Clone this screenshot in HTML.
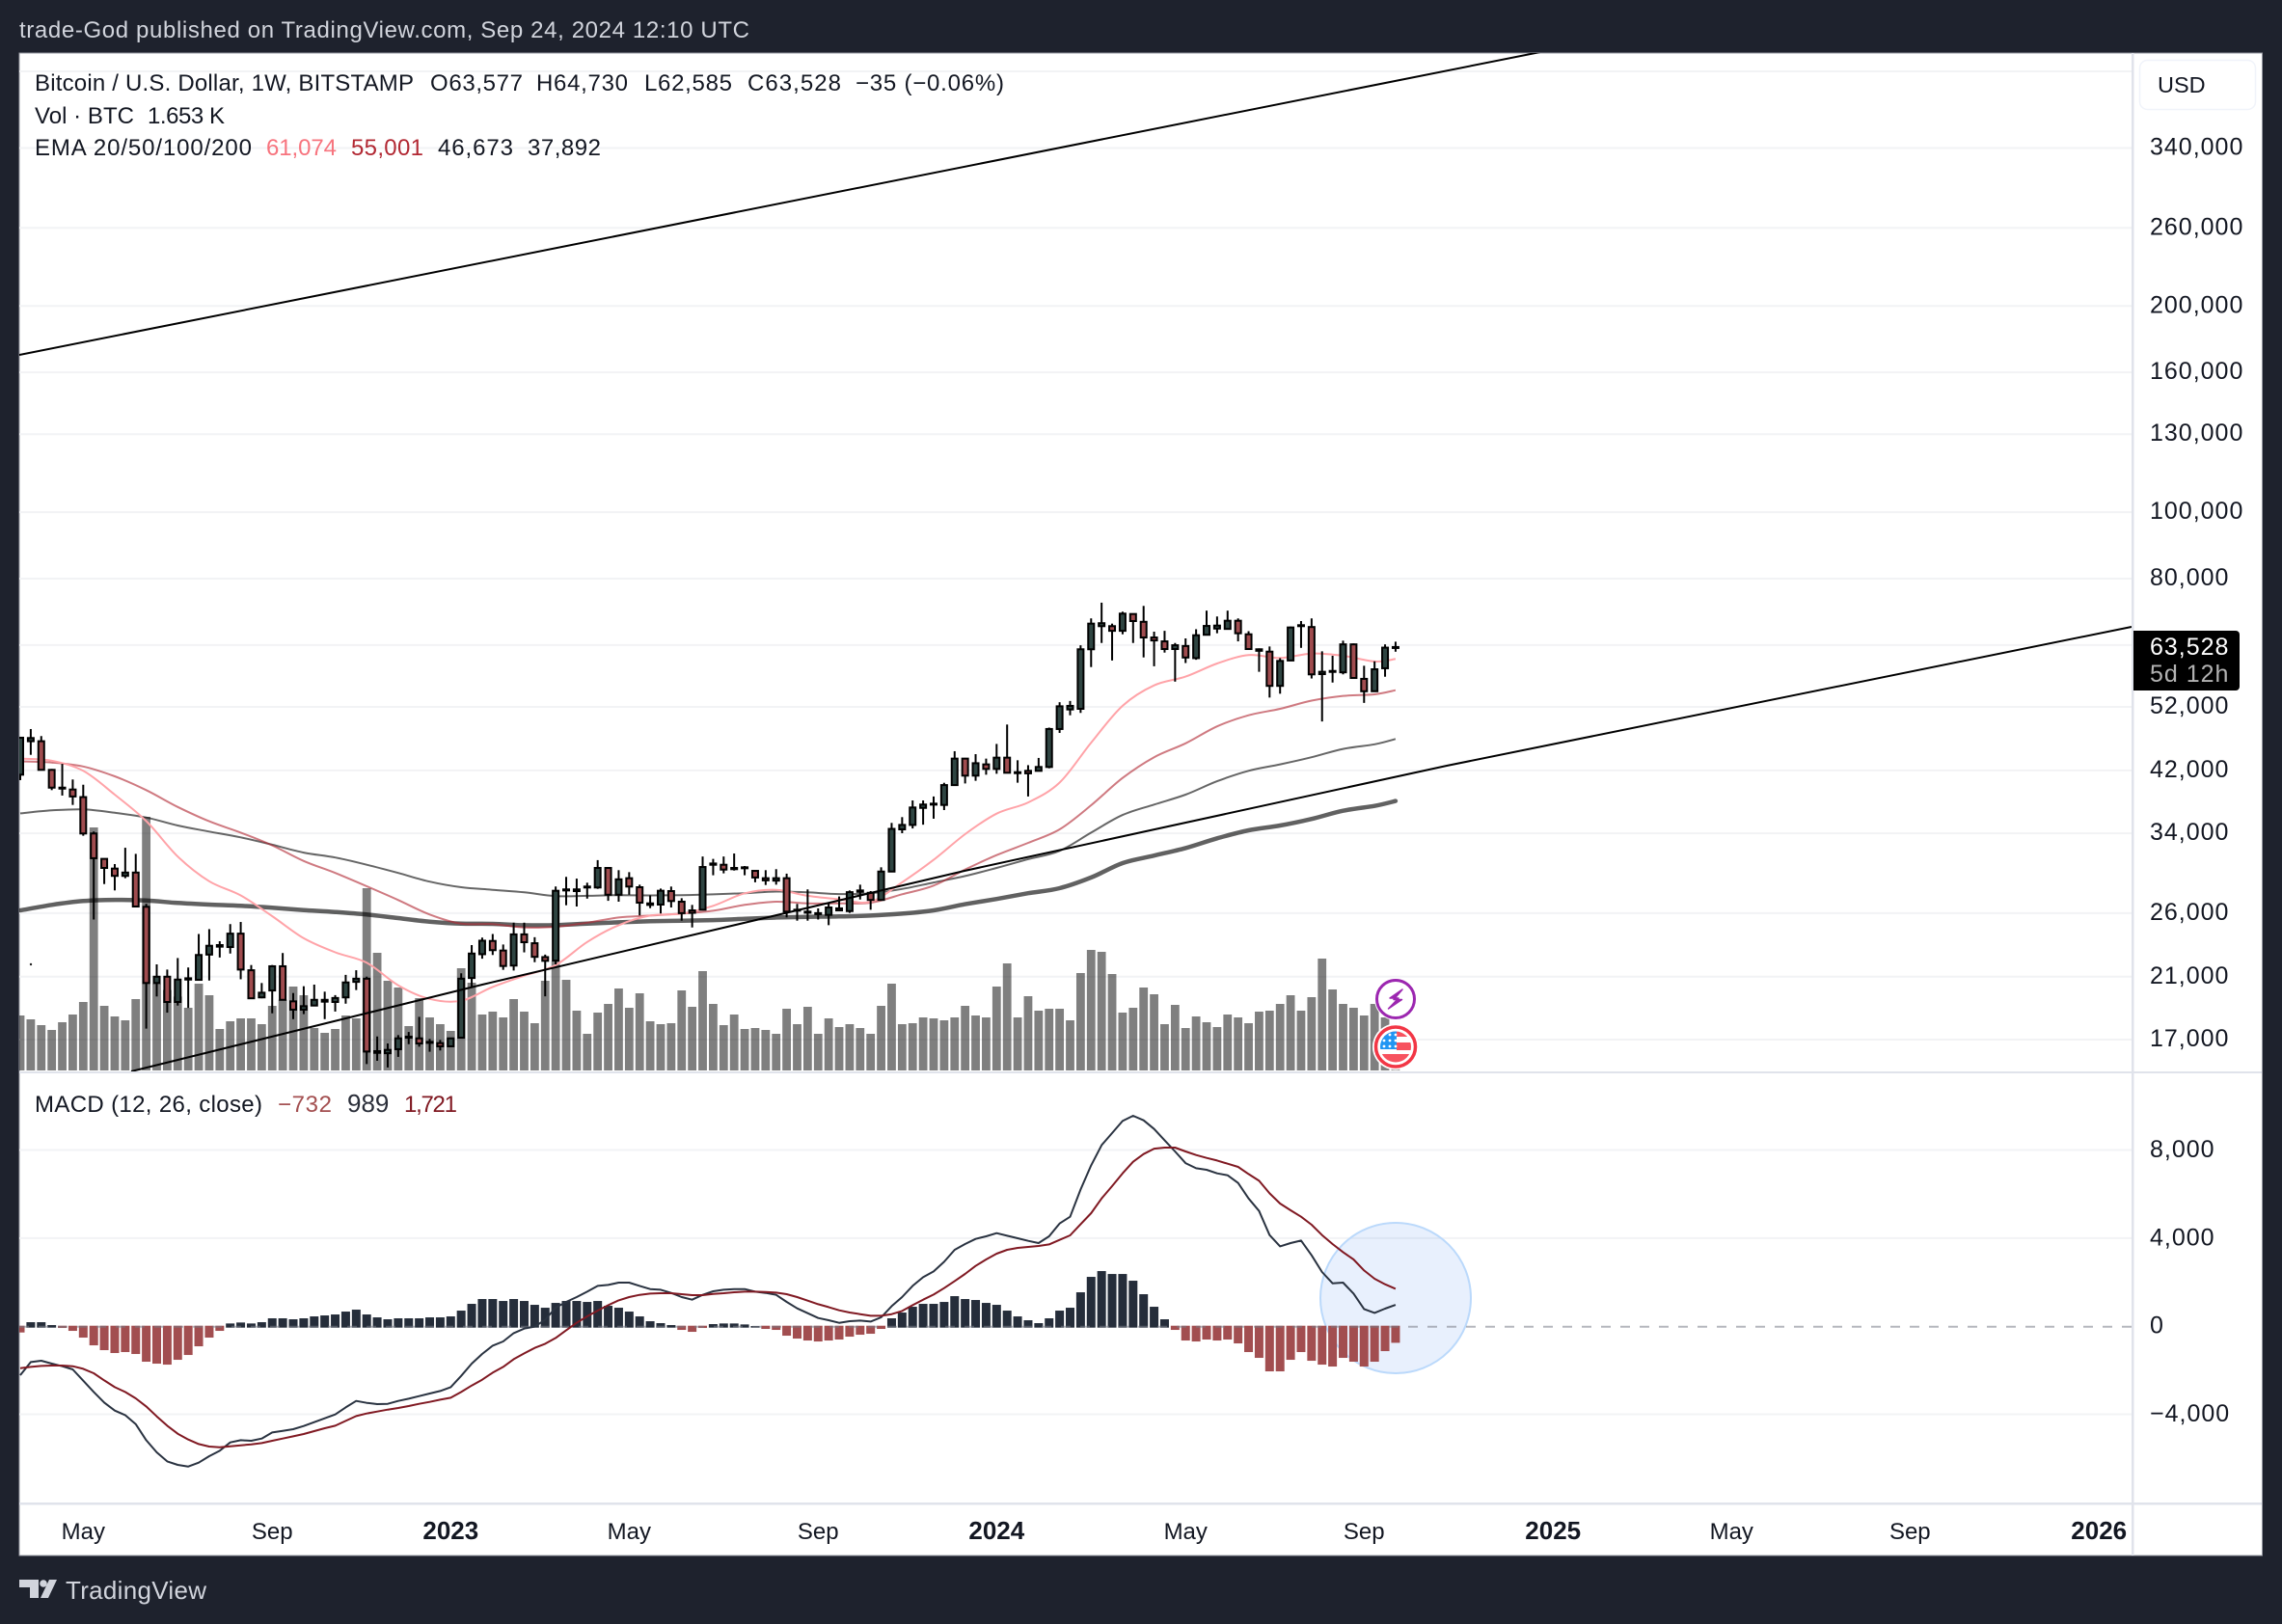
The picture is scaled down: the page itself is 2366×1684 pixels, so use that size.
<!DOCTYPE html>
<html lang="en">
<head>
<meta charset="utf-8">
<title>BTCUSD weekly chart</title>
<style>
html,body{margin:0;padding:0;background:#1e222d;width:2366px;height:1684px;overflow:hidden}
svg{display:block}
text{font-family:"Liberation Sans",sans-serif;fill:#131722}
.leg{font-size:24px}
.ax{font-size:25px;letter-spacing:1px;fill:#131722}
</style>
</head>
<body>
<svg id="chart" xmlns="http://www.w3.org/2000/svg" width="2366" height="1684" viewBox="0 0 2366 1684">
  <defs>
    <clipPath id="mainClip"><rect x="20" y="55" width="2191" height="1056"/></clipPath>
    <clipPath id="macdClip"><rect x="20" y="1113" width="2191" height="445"/></clipPath>
    <clipPath id="flagClip"><circle cx="1447" cy="1085.5" r="16"/></clipPath>
  </defs>
  <rect x="0" y="0" width="2366" height="1684" fill="#1e222d"/>
  <text x="20" y="39" font-size="24" style="fill:#d1d4dc" textLength="757">trade-God published on TradingView.com, Sep 24, 2024 12:10 UTC</text>
  <rect x="20" y="55" width="2325.5" height="1558" fill="#fff" stroke="#9598a1" stroke-width="1"/>
  <g id="gridLayer"></g>
  <g id="mainLayer" clip-path="url(#mainClip)"></g>
  <g id="macdLayer" clip-path="url(#macdClip)"></g>

  <rect x="20" y="1111" width="2325" height="2" fill="#e0e3eb"/>
  <rect x="20" y="1558" width="2325" height="2.5" fill="#e0e3eb"/>
  <rect x="2210" y="55" width="2.5" height="1558" fill="#e0e3eb"/>

  <g id="axisLayer"></g>

  <g>
    <text class="leg" x="36" y="94" textLength="393">Bitcoin / U.S. Dollar, 1W, BITSTAMP</text>
    <text class="leg" x="446" y="94" textLength="96">O63,577</text>
    <text class="leg" x="556" y="94" textLength="95">H64,730</text>
    <text class="leg" x="668" y="94" textLength="91">L62,585</text>
    <text class="leg" x="775" y="94" textLength="97">C63,528</text>
    <text class="leg" x="887" y="94" textLength="154">−35 (−0.06%)</text>
    <text class="leg" x="36" y="128" textLength="103">Vol · BTC</text>
    <text class="leg" x="153" y="128" textLength="80">1.653 K</text>
    <text class="leg" x="36" y="161" textLength="225">EMA 20/50/100/200</text>
    <text class="leg" x="276" y="161" textLength="73" style="fill:#f7747e">61,074</text>
    <text class="leg" x="364" y="161" textLength="75" style="fill:#b22833">55,001</text>
    <text class="leg" x="454" y="161" textLength="78">46,673</text>
    <text class="leg" x="547" y="161" textLength="76">37,892</text>
    <text class="leg" x="36" y="1153" textLength="236">MACD (12, 26, close)</text>
    <text class="leg" x="288" y="1153" textLength="56" style="fill:#a34f50">−732</text>
    <text class="leg" x="360" y="1153" style="fill:#2a2e39;font-size:26px">989</text>
    <text class="leg" x="419" y="1153" textLength="55" style="fill:#801922">1,721</text>
  </g>

  <g>
    <rect x="2218.5" y="62.5" width="120" height="51" rx="8" fill="#fff" stroke="#f0f3fa" stroke-width="1.5"/>
    <text x="2237" y="96" font-size="23.5">USD</text>
  </g>

  <g>
    <path d="M2212 654H2318a4 4 0 0 1 4 4V712a4 4 0 0 1 -4 4H2212Z" fill="#000"/>
    <text x="2229" y="679" font-size="25" letter-spacing="1" style="fill:#fff">63,528</text>
    <text x="2229" y="707" font-size="25" letter-spacing="1" style="fill:#b2b2b2">5d 12h</text>
  </g>

  <circle cx="32" cy="1000" r="1.2" fill="#222"/>

  <g>
    <circle cx="1447" cy="1036" r="22" fill="#fff"/>
    <circle cx="1447" cy="1036" r="19.5" fill="#fff" stroke="#9c27b0" stroke-width="3"/>
    <path d="M1454 1026L1441 1035H1450L1439.5 1046L1453.5 1036.5H1445Z" fill="#9c27b0" stroke="#9c27b0" stroke-width="1.5" stroke-linejoin="round"/>
  </g>
  <g>
    <circle cx="1447" cy="1085.5" r="24" fill="#fff"/>
    <circle cx="1447" cy="1085.5" r="20.5" fill="#fff" stroke="#f23645" stroke-width="3.5"/>
    <g clip-path="url(#flagClip)">
      <rect x="1430" y="1069" width="34" height="33" fill="#fff"/>
      <rect x="1430" y="1069" width="34" height="6" fill="#f7525f"/>
      <rect x="1448" y="1081" width="17" height="8" fill="#f7525f"/>
      <rect x="1430" y="1093" width="34" height="10" fill="#f7525f"/>
      <rect x="1430" y="1069" width="18" height="19" fill="#2196f3"/>
      <g fill="#fff">
        <circle cx="1441" cy="1073" r="1.4"/><circle cx="1447" cy="1073" r="1.4"/>
        <circle cx="1435" cy="1079" r="1.4"/><circle cx="1441" cy="1079" r="1.4"/><circle cx="1447" cy="1079" r="1.4"/>
        <circle cx="1435" cy="1085" r="1.4"/><circle cx="1441" cy="1085" r="1.4"/><circle cx="1447" cy="1085" r="1.4"/>
      </g>
    </g>
  </g>

  <g>
    <path d="M20 1638H40V1657H31V1646H20Z" fill="#d1d4dc"/>
    <circle cx="45" cy="1642" r="3.8" fill="#d1d4dc"/>
    <path d="M51 1638H59L50 1657H42Z" fill="#d1d4dc"/>
    <text x="68" y="1658" font-size="26" textLength="146" style="fill:#d1d4dc">TradingView</text>
  </g>
</svg>
<script>
const opens=[41400,46330,46330,42080,39640,39390,38400,33980,31200,30200,29470,29800,26560,20560,21000,19290,20800,20780,22620,23230,23200,24270,21460,19590,20050,21750,19330,18800,19060,19310,19290,19590,20640,20860,16260,16240,16460,17110,17070,16820,16800,16620,17110,20910,22650,23680,22930,21800,24210,23500,22430,22170,28060,28160,28340,28340,30264,27660,29240,28366,26730,26760,28000,27020,26240,26300,30590,30590,30264,30264,29970,29240,29000,29240,26240,26130,25950,25850,26420,26180,27930,27840,27180,29900,34454,34970,37030,37560,37400,39980,43700,41270,42860,42210,43840,41670,41940,41940,42490,48270,51550,51660,63100,68200,68200,67140,71040,69200,65650,64800,63150,63800,61250,66250,67650,67570,69450,66360,63100,62600,55800,60770,68200,68000,58050,58670,58400,64150,57130,54800,59200,63577];
const highs=[46900,48265,47140,42210,42930,40740,40030,34200,31250,30660,32390,31730,26820,21889,21510,22360,21660,24240,24640,23660,25060,25240,21840,20560,21840,22740,19880,20340,20450,19970,19740,21130,21460,21000,17180,16780,17260,17440,18350,17040,16980,17110,21240,23354,23950,24240,23400,25180,25180,23980,22620,28430,29370,29200,28800,31070,30330,30040,29840,28610,27600,28240,28430,27340,26730,31450,31200,31450,31770,30460,30000,30040,30140,29690,26820,28160,26420,26870,27500,28060,28610,28000,30330,35210,35900,37970,37970,38480,40290,44800,43800,44360,43700,45910,49000,43460,42750,43800,48500,52820,53040,63960,70000,73800,68780,71600,71200,73000,66950,67140,64450,65450,67500,71850,70450,71850,70000,67060,63290,63700,61250,68100,69380,70000,62660,61744,64950,64350,59700,60600,64150,64730];
const lows=[40650,44260,42000,39310,38600,37400,33720,25450,28670,28065,29240,26530,17640,19650,18610,19060,18910,20760,20730,22400,22700,20820,19500,19530,18570,19400,18210,18520,19020,18210,18680,19180,20080,15660,15830,15480,16040,16740,16600,16320,16390,16600,17090,20290,22310,22590,21490,21440,22790,22050,19660,21889,26700,26586,27300,28210,27100,27020,27660,25800,26440,25970,26500,25350,24780,26240,29530,29720,30000,29530,28840,28580,28610,25630,25350,25350,25450,24970,26180,26020,27220,26300,27100,29880,34010,34560,35000,35710,36761,39950,40200,40560,41400,41530,41590,40300,38480,41900,42300,47641,50550,50950,59440,64450,60770,66360,64450,61400,59600,62400,56600,60250,60920,66200,66590,67500,64800,63100,58500,53650,54350,60700,63400,57200,49500,56430,58000,57250,52700,54750,57540,62585];
const closes=[46880,46830,42080,39640,39510,38480,33980,31270,30264,29470,29800,26586,20560,21000,19290,20800,20890,22590,23300,23354,24270,21510,19530,19900,21750,19430,18800,19020,19430,19430,19550,20600,20860,16330,16351,16420,17070,17170,16780,16870,16620,17070,20860,22700,23700,22960,21770,24210,23580,22450,22150,28030,28160,28000,28430,30264,27660,29130,28430,26930,26870,28030,27080,26000,26030,30360,30720,30100,30140,30330,29310,29030,29240,26130,26300,26040,26000,26500,26240,27900,28060,27180,29900,34510,34970,37080,37450,37450,39980,43700,41270,43030,42210,43840,41670,41750,41590,42490,48270,52100,52170,63100,68780,68880,67140,71130,69380,65650,65000,63150,63960,61380,66150,68250,68330,69450,66590,63150,62780,55800,60680,67900,68420,58000,58500,58500,64150,57300,54800,59000,63450,63528];
const volumes=[28.5,26.5,23.5,21,25,29,35.5,126,33.5,28,26,37,131.5,45,41.7,38.3,32.5,45,39,21.5,25.5,27,27,24,33.5,36.7,43.5,39,22,19.5,21.5,28.5,27,94.5,61,46.5,43,23,37.5,27.5,24,20.5,53,45.5,29,30.5,27.5,37,30.5,24.5,46.5,56.7,47,31,19,30,34.5,42.5,32.5,40,25.5,24,24.5,41.5,33,51.5,34.5,23.5,29,21.5,22,21,19,32,24,33,19,27,22.5,24,22,19,33.5,45,24,24.5,27.5,27,26,27.5,33.5,28.5,27.5,43.5,55.5,27.5,38.5,31,32,32,26,50.5,62.5,61.5,50,30,32.5,43,39.5,24,34,22,28,25,22.5,29,27.5,24.5,30.5,31,34.5,39,31,38,58,42,34.5,32.5,28.5,34.5,27.5,1.653];
const emaWeeks=[0,3,6,9,12,15,18,21,24,27,30,33,36,39,42,45,48,51,54,57,60,63,66,69,72,75,78,81,84,87,90,93,96,99,102,105,108,111,114,117,120,123,126,129,131];
const ema20=[43700,43400,41940,38720,35430,31450,28940,27600,25740,23900,22790,22010,20400,19490,19370,20290,21070,21840,23600,24970,25790,25960,26650,27790,28120,27560,27240,27020,28840,31100,33900,36320,37720,40320,46100,52180,55900,57560,60150,61880,61290,62200,61744,60570,61074];
const ema50=[43300,43130,42560,41170,39310,37150,35400,34080,32650,30980,29760,28460,27170,25880,25100,25060,24780,24840,25180,25620,25790,25960,26210,26730,27020,26870,26870,26930,27700,28520,30100,31600,32930,34454,37360,40950,43900,46000,48700,50550,51660,53100,53950,54235,55001];
const ema100=[36360,36720,36840,36430,35860,34900,34200,33540,32720,31870,31340,30590,29760,28900,28366,28120,27880,27530,27560,27620,27600,27620,27690,27800,27960,27880,27720,27800,28200,28820,29450,30264,31170,32050,34080,36160,37450,38720,40500,41940,42860,43900,45150,45850,46673];
const ema200=[26240,26730,27080,27190,27130,26910,26760,26650,26480,26270,26100,25880,25570,25270,25100,25080,24970,24970,25100,25210,25300,25350,25400,25510,25620,25680,25710,25790,25960,26240,26790,27270,27800,28270,29310,30760,31550,32360,33430,34340,34900,35680,36680,37280,37892];
const macdLine=[-2205,-1606,-1548,-1679,-1796,-1942,-2453,-2964,-3446,-3811,-4015,-4424,-5154,-5709,-6117,-6278,-6351,-6176,-5884,-5636,-5256,-5154,-5183,-5081,-4803,-4730,-4657,-4511,-4336,-4161,-3986,-3665,-3373,-3460,-3519,-3504,-3373,-3270,-3154,-3037,-2920,-2745,-2234,-1679,-1241,-861,-672,-292,-88,0,321,861,1124,1343,1591,1854,1898,2000,2000,1854,1708,1679,1533,1343,1226,1445,1606,1679,1708,1708,1591,1533,1445,1124,832,613,394,292,175,248,277,234,423,934,1343,1854,2248,2511,2949,3489,3752,3986,4103,4249,4132,4015,3898,3796,4103,4687,4993,6234,7329,8249,8789,9344,9578,9373,8979,8468,7957,7431,7198,7125,6964,6877,6526,5825,5256,4161,3650,3796,3913,3241,2482,1971,2000,1504,803,628,818,989];
const signalLine=[-1883,-1825,-1781,-1767,-1767,-1796,-1913,-2117,-2438,-2745,-2964,-3256,-3621,-4073,-4497,-4862,-5125,-5329,-5446,-5475,-5431,-5387,-5344,-5285,-5183,-5081,-4979,-4876,-4745,-4614,-4497,-4278,-4059,-3942,-3854,-3767,-3694,-3606,-3504,-3416,-3314,-3227,-2964,-2672,-2409,-2088,-1825,-1475,-1212,-964,-774,-511,-161,175,467,730,978,1197,1343,1445,1504,1518,1518,1475,1431,1431,1489,1518,1562,1591,1591,1577,1548,1475,1343,1183,1022,891,745,642,569,496,496,569,715,978,1226,1460,1752,2073,2394,2759,3051,3314,3489,3577,3621,3665,3738,3942,4146,4657,5154,5825,6380,6964,7490,7840,8088,8132,8132,7957,7796,7665,7548,7402,7256,6935,6628,6059,5592,5285,4993,4628,4161,3752,3387,3051,2555,2175,1927,1721];
const macdHist=[-263,204,204,73,-58,-190,-496,-847,-1066,-1197,-1153,-1241,-1591,-1679,-1723,-1504,-1285,-891,-496,-190,146,190,146,204,380,380,336,380,467,511,555,686,774,555,423,336,380,380,380,423,423,467,730,1037,1256,1256,1168,1256,1168,993,861,1080,1168,1168,1124,1168,949,861,686,467,248,161,73,-146,-234,-58,117,146,146,102,29,-102,-146,-409,-540,-628,-672,-628,-584,-453,-365,-321,-102,380,642,905,1037,1037,1124,1387,1256,1212,1080,993,730,467,292,161,380,730,861,1562,2263,2526,2394,2394,2088,1475,905,336,-146,-628,-672,-584,-628,-584,-759,-1153,-1416,-2029,-2029,-1504,-1153,-1548,-1723,-1810,-1416,-1591,-1810,-1591,-1110,-732];
const priceTickValues=[340000,260000,200000,160000,130000,100000,80000,52000,42000,34000,26000,21000,17000];
const priceTickLabels=["340,000","260,000","200,000","160,000","130,000","100,000","80,000","52,000","42,000","34,000","26,000","21,000","17,000"];
const priceGridOnly=[440000,64000];
const macdTickValues=[8000,4000,0,-4000];
const macdTickLabels=["8,000","4,000","0","−4,000"];
const timeTickWeeks=[6,24,41,58,76,93,111,128,146,163,180,198];
const timeTickLabels=["May","Sep","2023","May","Sep","2024","May","Sep","2025","May","Sep","2026"];
const timeTickIsYear=[false,false,true,false,false,true,false,false,true,false,false,true];

const NS='http://www.w3.org/2000/svg';
function barX(i){return 21+10.885*i;}
function priceY(p){return 1078-308.6*Math.log(p/17000);}
function volumeY(v){return 1110-2*v;}
function macdY(v){return 1375.7-0.02283*v;}
function mk(tag,attrs,parent){
  const el=document.createElementNS(NS,tag);
  for(const k in attrs){el.setAttribute(k,attrs[k]);}
  parent.appendChild(el);
  return el;
}
const gridLayer=document.getElementById('gridLayer');
const mainLayer=document.getElementById('mainLayer');
const macdLayer=document.getElementById('macdLayer');
const axisLayer=document.getElementById('axisLayer');

priceTickValues.concat(priceGridOnly).forEach(function(p){
  const el=mk('line',{x1:20,x2:2210,y1:priceY(p),y2:priceY(p),stroke:'#f2f3f5','stroke-width':2},gridLayer);
  
  
});
macdTickValues.forEach(function(v){
  if(v===0){return;}
  const el=mk('line',{x1:20,x2:2210,y1:macdY(v)-0.5,y2:macdY(v)-0.5,stroke:'#f2f3f5','stroke-width':2},gridLayer);
  
  
});

volumes.forEach(function(v,i){
  const el=mk('rect',{x:barX(i)-4.4,y:volumeY(v),width:8.8,height:1110-volumeY(v),fill:'rgba(0,0,0,0.5)'},mainLayer);
  
  
});

function emaPath(values){
  const pts=values.map(function(v,k){return [barX(emaWeeks[k]),priceY(v)];});
  let d='M'+pts[0][0].toFixed(1)+' '+pts[0][1].toFixed(1);
  for(let k=0;k<pts.length-1;k++){
    const p0=pts[Math.max(0,k-1)];
    const p1=pts[k];
    const p2=pts[k+1];
    const p3=pts[Math.min(pts.length-1,k+2)];
    const c1x=p1[0]+(p2[0]-p0[0])/6;
    const c1y=p1[1]+(p2[1]-p0[1])/6;
    const c2x=p2[0]-(p3[0]-p1[0])/6;
    const c2y=p2[1]-(p3[1]-p1[1])/6;
    d+='C'+c1x.toFixed(1)+' '+c1y.toFixed(1)+' '+c2x.toFixed(1)+' '+c2y.toFixed(1)+' '+p2[0].toFixed(1)+' '+p2[1].toFixed(1);
  }
  return d;
}
const emaLine200=mk('path',{d:emaPath(ema200),fill:'none',stroke:'rgba(0,0,0,0.62)','stroke-width':4.5,'stroke-linejoin':'round','stroke-linecap':'round'},mainLayer);


const emaLine100=mk('path',{d:emaPath(ema100),fill:'none',stroke:'rgba(0,0,0,0.6)','stroke-width':2,'stroke-linejoin':'round'},mainLayer);


const emaLine50=mk('path',{d:emaPath(ema50),fill:'none',stroke:'rgba(178,40,51,0.62)','stroke-width':2,'stroke-linejoin':'round'},mainLayer);


const emaLine20=mk('path',{d:emaPath(ema20),fill:'none',stroke:'#ffa3a8','stroke-width':2,'stroke-linejoin':'round'},mainLayer);



opens.forEach(function(o,i){
  const c=closes[i];
  const x=barX(i);
  const top=priceY(Math.max(o,c));
  const bot=priceY(Math.min(o,c));
  const wick=mk('line',{x1:x,x2:x,y1:priceY(highs[i]),y2:priceY(lows[i]),stroke:'#000','stroke-width':2},mainLayer);
  
  
  const body=mk('rect',{x:x-3,y:top,width:6,height:Math.max(1,bot-top),fill:c>=o?'#2f4542':'#a04c4f',stroke:'#000','stroke-width':2},mainLayer);
  
  
});

const trendUpper=mk('polyline',{points:'20,368 1597,54',fill:'none',stroke:'#000','stroke-width':2},mainLayer);


const trendLower=mk('polyline',{points:'136,1111 500,1021 1000,903 1500,794 2210,650',fill:'none',stroke:'#000','stroke-width':2},mainLayer);



const highlight=mk('circle',{cx:1447,cy:1346,r:78,fill:'rgba(41,121,240,0.11)',stroke:'#bbd9fb','stroke-width':2},macdLayer);



macdHist.forEach(function(v,i){
  const y0=macdY(0);
  const yv=macdY(v);
  const top=v>=0?yv:y0-1;
  const h=v>=0?(y0+1-yv):(yv-y0+1);
  const el=mk('rect',{x:barX(i)-4.5,y:top,width:9,height:h,fill:v>=0?'#252d3a':'#a24e50'},macdLayer);
  
  
});
const zeroLine=mk('line',{x1:20,x2:2210,y1:macdY(0),y2:macdY(0),stroke:'rgba(120,123,134,0.55)','stroke-width':2,'stroke-dasharray':'10 10'},macdLayer);



function seriesPath(values){
  return values.map(function(v,i){return (i?'L':'M')+barX(i).toFixed(1)+' '+macdY(v).toFixed(1);}).join('');
}
const macdPath=mk('path',{d:seriesPath(macdLine),fill:'none',stroke:'#2a3341','stroke-width':2,'stroke-linejoin':'round'},macdLayer);


const signalPath=mk('path',{d:seriesPath(signalLine),fill:'none',stroke:'#801922','stroke-width':2,'stroke-linejoin':'round'},macdLayer);



priceTickValues.forEach(function(p,k){
  const el=mk('text',{x:2229,y:priceY(p)+7,class:'ax'},axisLayer);
  el.textContent=priceTickLabels[k];
  
  
});
macdTickValues.forEach(function(v,k){
  const el=mk('text',{x:2229,y:macdY(v)+7,class:'ax'},axisLayer);
  el.textContent=macdTickLabels[k];
  
  
});
timeTickWeeks.forEach(function(w,k){
  const isYear=timeTickIsYear[k];
  const el=mk('text',{x:barX(w),y:1596,'text-anchor':'middle','font-size':isYear?26:24,'font-weight':isYear?'bold':'normal'},axisLayer);
  el.textContent=timeTickLabels[k];
  
  
});
</script>
</body>
</html>
